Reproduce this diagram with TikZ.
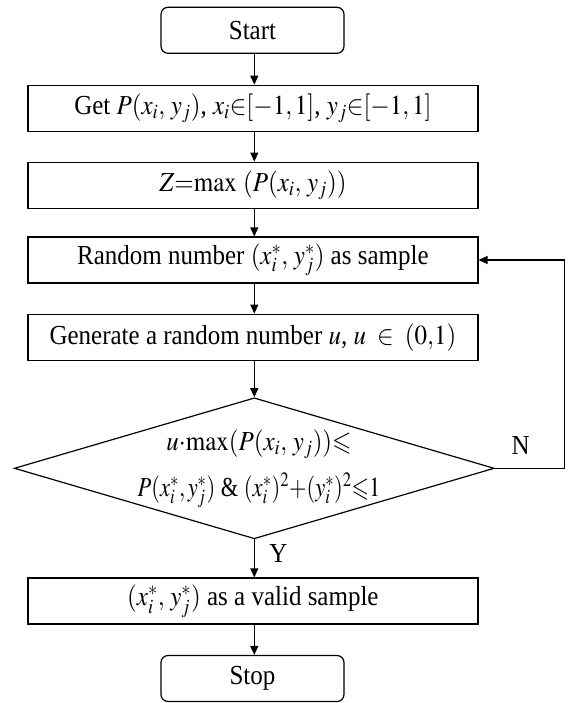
\documentclass[tikz,border=0pt]{standalone}
\usepackage{graphicx}
\usepackage{mathptmx}
\usepackage{amssymb}
\usepackage{fontspec}
\setmainfont{Liberation Serif}
\usetikzlibrary{shapes.geometric,arrows.meta}
% slightly taller lettering
\newcommand{\tallt}[1]{\scalebox{1}[1.1]{#1}}
\tikzset{
  txt/.style={font=\fontsize{25}{30}\selectfont},
  base/.style={draw=black, line width=1.2pt, inner sep=0pt, txt},
  procbox/.style={base, rectangle, minimum width=450pt, minimum height=46pt},
  termbox/.style={base, rectangle, rounded corners=7pt, minimum width=183pt, minimum height=46pt},
  decbox/.style={base, diamond, aspect=3.39, minimum width=480pt, minimum height=141pt},
  lbl/.style={txt, inner sep=0pt},
  arr/.style={line width=1.2pt, -{Triangle[length=9pt,width=8pt]}}
}
\begin{document}
\begin{tikzpicture}[x=1pt,y=-1pt]
  \useasboundingbox (0,0) rectangle (568,703);
  % process chain
  \node[termbox] (start) at (252.5,30.3) {\tallt{Start}};
  \node[procbox] (get) at (252.9,108.3) {\tallt{Get $P(x_i,\,y_j)$, $x_i{\in}[-1,1]$, $y_j{\in}[-1,1]$}};
  \node[procbox] (zmax) at (252.9,185.2) {\tallt{$Z{=}\mathrm{max}\ (P(x_i,\,y_j))$}};
  \node[procbox] (rand) at (252.9,260) {\tallt{Random number $(x_i^*,\,y_j^*)$ as sample}};
  \node[procbox] (gen) at (252.9,337.2) {\tallt{Generate a random number $u$, $u\;\in\;(0{,}1)$}};
  % decision
  \node[decbox] (dec) at (254.3,468.3) {};
  \node[lbl, anchor=base] (dline1) at (259,450) {\tallt{$u{\cdot}\mathrm{max}(P(x_i,\,y_j)){\leqslant}$}};
  \node[lbl, anchor=base] (dline2) at (259,496) {\scalebox{0.9}[1.1]{$P(x_i^*,y_j^*)$ \& $(x_i^*)^2{+}(y_i^*)^2{\leqslant}1$}};
  \node[procbox] (valid) at (252.9,601) {\tallt{$(x_i^*,\,y_j^*)$ as a valid sample}};
  \node[termbox] (stop) at (252.5,678.5) {\tallt{Stop}};
  \coordinate (loopx) at (564.7,468.3);

  % connectors
  \draw[arr] (start.south -| dec.north) -- (get.north -| dec.north);
  \draw[arr] (get.south -| dec.north) -- (zmax.north -| dec.north);
  \draw[arr] (zmax.south -| dec.north) -- (rand.north -| dec.north);
  \draw[arr] (rand.south -| dec.north) -- (gen.north -| dec.north);
  \draw[arr] (gen.south -| dec.north) -- (dec.north);
  \draw[arr] (dec.south) -- (valid.north -| dec.south);
  \draw[arr] (valid.south -| dec.north) -- (stop.north -| dec.north);
  \draw[arr] (dec.east) -- (loopx) |- (rand.east);
  \node[lbl] (ylab) at (278.4,553) {\tallt{Y}};
  \node[lbl] (nlab) at (520.6,445) {\tallt{N}};
\end{tikzpicture}
\end{document}
